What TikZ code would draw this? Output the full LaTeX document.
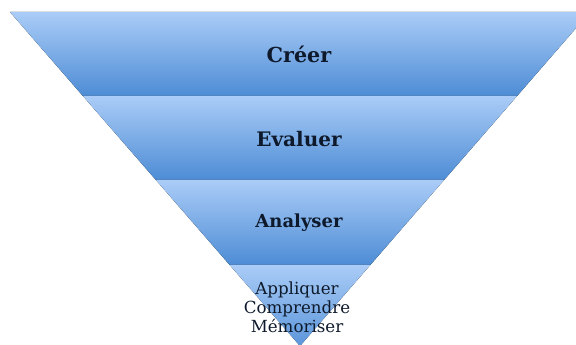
\documentclass[tikz,border=0pt]{standalone}
\usepackage{fontspec}
\setmainfont{DejaVu Serif}
\definecolor{bandtop}{HTML}{AACCF7}
\definecolor{bandbot}{HTML}{4D8CD5}
\definecolor{ink}{HTML}{0E1A2B}
\begin{document}
\begin{tikzpicture}[x=0.75pt,y=-0.75pt,
    band/.style={top color=bandtop,bottom color=bandbot,draw=none},
    lbl/.style={text=ink,font=\bfseries\fontsize{15.5}{18}\selectfont},
    small/.style={text=ink,align=center,font=\fontsize{12.5}{14.3}\selectfont}]
  \useasboundingbox (0,0) rectangle (576,345);
  \clip (0,0) rectangle (576,345);
  \coordinate (T1) at (10,12);    \coordinate (T2) at (590,12);
  \coordinate (L1) at (82.9,96);  \coordinate (R1) at (517.1,96);
  \coordinate (L2) at (155.9,180);\coordinate (R2) at (444.1,180);
  \coordinate (L3) at (229.7,265);\coordinate (R3) at (370.3,265);
  \coordinate (apex) at (300,346);
  \fill[band] (T1) -- (T2) -- (R1) -- (L1) -- cycle;
  \fill[band] (L1) -- (R1) -- (R2) -- (L2) -- cycle;
  \fill[band] (L2) -- (R2) -- (R3) -- (L3) -- cycle;
  \fill[band,bottom color=bandbot!85!bandtop] (L3) -- (R3) -- (apex) -- cycle;
  \node[lbl] at (299,54) (creer) {Créer};
  \node[lbl,font=\bfseries\fontsize{15}{18}\selectfont] at (299,139) (evaluer) {Evaluer};
  \node[lbl,font=\bfseries\fontsize{13.5}{17}\selectfont] at (299,223) (analyser) {Analyser};
  \node[small] at (297,307) (bas) {Appliquer\\Comprendre\\Mémoriser};
\end{tikzpicture}
\end{document}
